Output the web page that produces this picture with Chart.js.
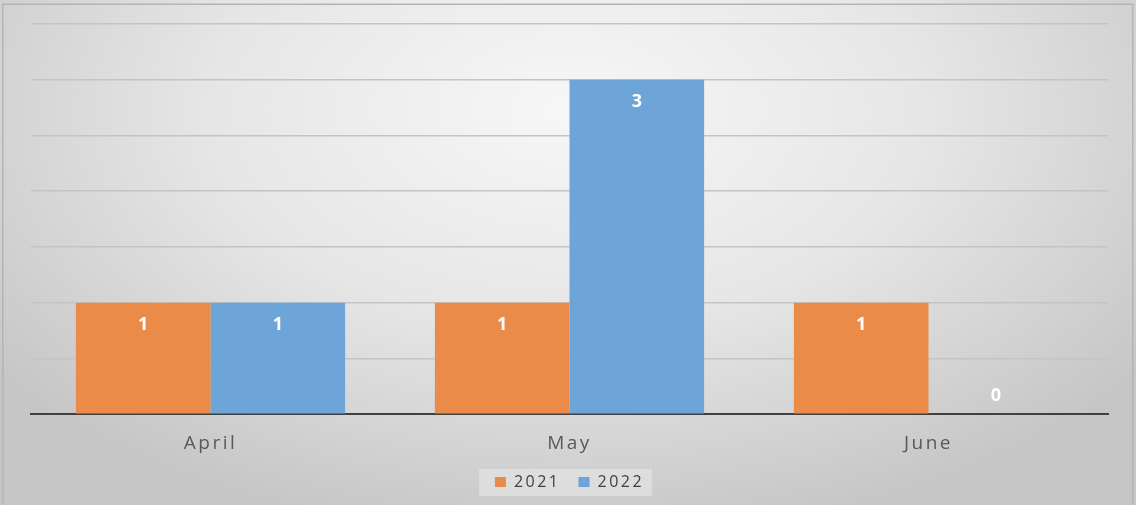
<!DOCTYPE html>
<html>
<head>
<meta charset="utf-8">
<script src="https://cdn.jsdelivr.net/npm/chart.js@4.4.1/dist/chart.umd.min.js"></script>
<style>
  html, body { margin: 0; padding: 0; background: #ffffff; }
  #wrap { width: 1136px; height: 505px; position: relative; }
</style>
</head>
<body>
<div id="wrap"><canvas id="barchart"></canvas></div>
<script>
const months = ['April', 'May', 'June'];
const values2021 = [1, 1, 1];
const values2022 = [1, 3, 0];

// soft grey backdrop with a thin frame
const backdrop = {
    id: 'backdrop',
    beforeLayout(chart) {
        // wider tracking for axis and legend text (also used when measuring)
        chart.ctx.letterSpacing = '2.5px';
    },
    beforeDraw(chart) {
        const c = chart.ctx;
        const h = chart.height;
        c.save();
        c.translate(568, 110);
        c.scale(1, 0.6);
        const g = c.createRadialGradient(0, 0, 0, 0, 0, 720);
        g.addColorStop(0, '#f7f7f7');
        g.addColorStop(0.5, '#e6e6e6');
        g.addColorStop(1, '#c6c6c6');
        c.fillStyle = g;
        c.fillRect(-600, -300, 1300, 1000);
        c.restore();

        // legend panel
        const lg = chart.legend;
        if (lg && lg.legendHitBoxes && lg.legendHitBoxes.length) {
            const boxes = lg.legendHitBoxes;
            const x0 = boxes[0].left - 16;
            const x1 = boxes[boxes.length - 1].left + boxes[boxes.length - 1].width + 8;
            const yc = boxes[0].top + boxes[0].height / 2;
            c.save();
            c.fillStyle = 'rgba(255,255,255,0.3)';
            c.fillRect(x0, yc - 13, x1 - x0, 27);
            c.restore();
        }

        c.save();
        c.strokeStyle = '#b4b4b4';
        c.lineWidth = 1.5;
        c.strokeRect(2.75, 4.25, 1130, h);
        c.restore();

        c.letterSpacing = '2.5px';
    },
    afterDraw(chart) {
        chart.ctx.letterSpacing = '0px';
    }
};

// white value labels inside the bar ends
const valueLabels = {
    id: 'valueLabels',
    afterDatasetsDraw(chart) {
        const c = chart.ctx;
        c.save();
        c.letterSpacing = '0px';
        c.font = 'bold 18px "Open Sans", sans-serif';
        c.fillStyle = '#ffffff';
        c.textAlign = 'center';
        c.textBaseline = 'middle';
        chart.data.datasets.forEach((ds, i) => {
            chart.getDatasetMeta(i).data.forEach((bar, j) => {
                const v = ds.data[j];
                const y = v > 0 ? bar.y + 22 : bar.y - 18;
                c.fillText(String(v), bar.x, y);
            });
        });
        c.restore();
    }
};

window.addEventListener('load', () => {

    const ctx = document.getElementById('barchart');

    new Chart(ctx, {
        type: 'bar',
        data: {
            labels: months,
            datasets: [
                {
                    label: '2021',
                    data: values2021,
                    backgroundColor: '#ea8b4a',
                    borderWidth: 0,
                    categoryPercentage: 0.75,
                    barPercentage: 1
                },
                {
                    label: '2022',
                    data: values2022,
                    backgroundColor: '#6da5d8',
                    borderWidth: 0,
                    categoryPercentage: 0.75,
                    barPercentage: 1
                }
            ]
        },
        options: {
            responsive: true,
            maintainAspectRatio: false,
            animation: false,
            layout: {
                padding: { top: 24, left: 31, right: 28, bottom: 5 }
            },
            scales: {
                x: {
                    grid: { display: false, drawTicks: false },
                    border: { display: true, color: '#404040', width: 2 },
                    ticks: {
                        color: '#595959',
                        padding: 18,
                        font: { family: '"Open Sans", sans-serif', size: 19 }
                    },
                    afterFit(scale) {
                        scale.height -= 17;
                    }
                },
                y: {
                    min: 0,
                    max: 3.5,
                    grid: { color: '#c4c4c4', lineWidth: 1.5, drawTicks: false },
                    border: { display: false },
                    ticks: { display: false, stepSize: 0.5 }
                }
            },
            plugins: {
                legend: {
                    position: 'bottom',
                    labels: {
                        boxWidth: 11,
                        boxHeight: 10,
                        padding: 18,
                        color: '#404040',
                        font: { family: '"Open Sans", sans-serif', size: 16 }
                    }
                },
                tooltip: { enabled: false }
            }
        },
        plugins: [backdrop, valueLabels]
    });

});
</script>
</body>
</html>
